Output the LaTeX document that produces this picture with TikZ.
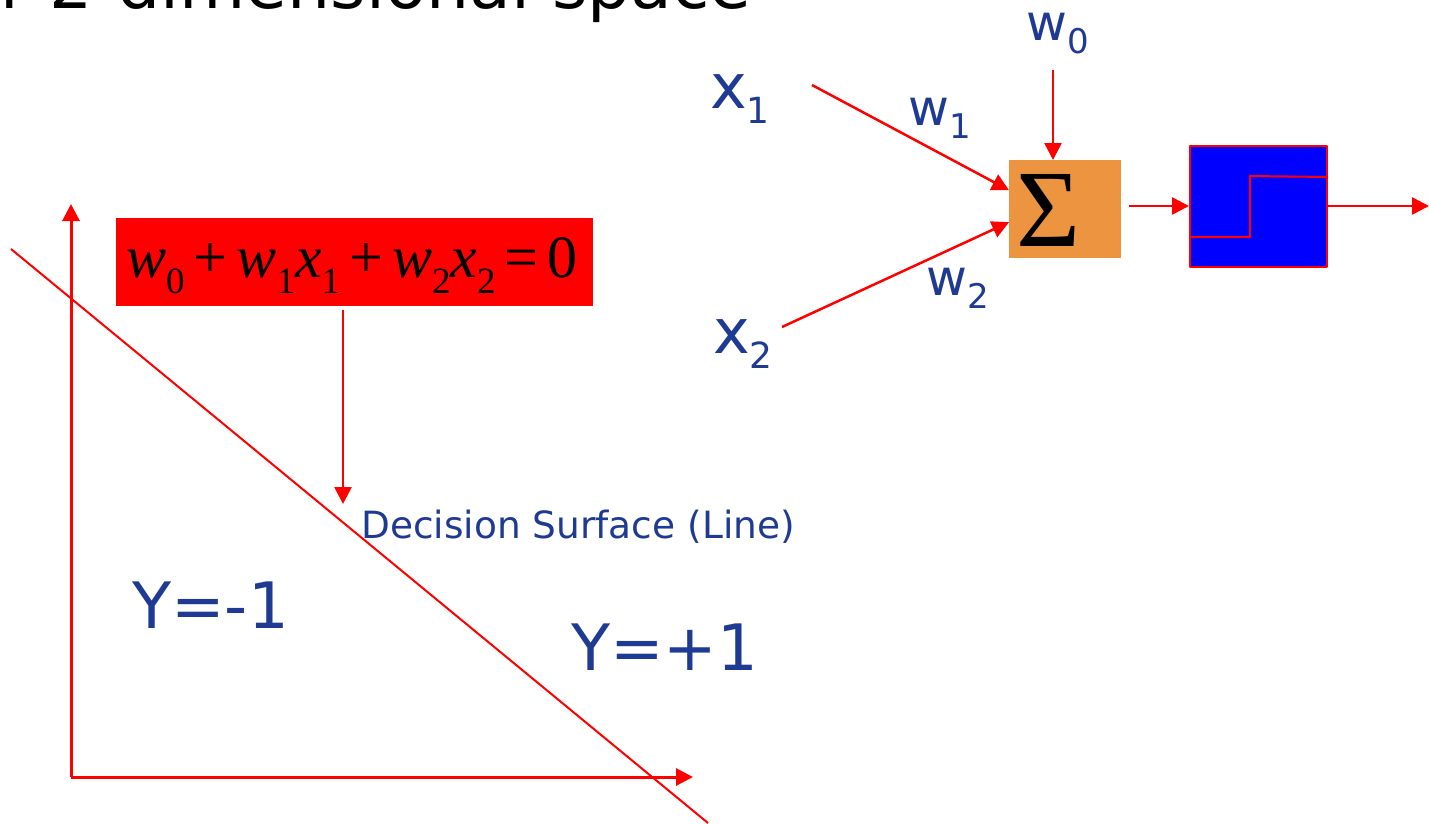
\documentclass[tikz,border=0pt]{standalone}
\usepackage{fontspec}
\setmainfont{DejaVu Sans}
\newfontfamily\eqfont{Liberation Serif}
\usetikzlibrary{arrows.meta}
\definecolor{labelblue}{RGB}{31,58,147}
\definecolor{sumorange}{RGB}{237,148,64}
\newcommand{\xlbl}[1]{{\fontsize{62}{62}\selectfont x}\raisebox{-15pt}{\fontsize{36}{36}\selectfont #1}}
\newcommand{\wlbl}[1]{{\fontsize{50}{50}\selectfont w}\raisebox{-13pt}{\fontsize{34}{34}\selectfont #1}}
\newcommand{\eqsub}[1]{\raisebox{-16pt}{\fontsize{37}{37}\selectfont\upshape #1}}
\newcommand{\eqop}[1]{\hspace{9pt}\upshape#1\hspace{9pt}\itshape}
\begin{document}
\begin{tikzpicture}[x=1pt, y=-1pt, line join=round, >={Triangle[length=17pt,width=17pt]},
	wire/.style={red, line width=2.5pt, ->},
	axis/.style={red, line width=3pt, ->},
	lbl/.style={labelblue, anchor=base west, inner sep=0pt}]
	\useasboundingbox (0,0) rectangle (1429,823);
	% title, cut off by the top edge
	\node[anchor=base west, inner sep=0pt, font=\fontsize{68}{68}\selectfont] (title) at (0,8) {r 2-dimensional space};
	% axes and decision line
	\coordinate (O) at (71,777);
	\coordinate (Ytop) at (71,204);
	\coordinate (Xend) at (693,777);
	\coordinate (L1) at (11,249);
	\coordinate (L2) at (708,823);
	\draw[axis] (O) -- (Ytop);
	\draw[axis] (O) -- (Xend);
	\draw[red, line width=2pt] (L1) -- (L2);
	% equation of the line
	\node[fill=red, minimum width=477pt, minimum height=88pt, inner sep=0pt, anchor=north west] (eq) at (116,218) {};
	\node[anchor=base west, inner sep=0pt] (eqtxt) at (126,277) {\eqfont\fontsize{60}{60}\selectfont\itshape
		w\eqsub{0}\eqop{+}w\eqsub{1}x\eqsub{1}\eqop{+}w\eqsub{2}x\eqsub{2}\eqop{=}\upshape 0};
	\coordinate (eqe) at (343,310);
	\coordinate (dse) at (343,504);
	\draw[wire] (eqe) -- (dse);
	\node[lbl, font=\fontsize{37.5}{37.5}\selectfont] (dlabel) at (361,538) {Decision Surface (Line)};
	\node[lbl, font=\fontsize{64}{64}\selectfont] (yneg) at (132,628) {Y=-1};
	\node[lbl, font=\fontsize{64}{64}\selectfont] (ypos) at (571,670) {Y=+1};
	% perceptron
	\node[fill=sumorange, minimum width=112pt, minimum height=98pt, inner sep=0pt, anchor=north west] (sum) at (1009,160) {};
	\node[anchor=base west, inner sep=0pt] (sig) at (1016,246) {\eqfont\fontsize{110}{110}\selectfont Σ};
	\node[draw=red, line width=2pt, fill=blue, minimum width=137pt, minimum height=121pt, inner sep=0pt, anchor=north west] (act) at (1189,145) {};
	\draw[red, line width=2pt] ([yshift=-30.5pt]act.west) -| (1250,176) -- ([yshift=29.5pt]act.east);
	\foreach \i/\px/\py in {1/710/108, 2/713/353}
		\node[lbl] (x\i) at (\px,\py) {\xlbl{\i}};
	\foreach \i/\px/\py in {0/1026/40, 1/908/125, 2/926/295}
		\node[lbl] (w\i) at (\px,\py) {\wlbl{\i}};
	\coordinate (x1e) at (812,85);
	\coordinate (x2e) at (782,327);
	\coordinate (w0e) at (1053,70);
	\coordinate (sume) at (1129,206);
	\coordinate (oute) at (1429,206);
	\draw[wire] (x1e) -- ([yshift=19pt]sum.west);
	\draw[wire] (x2e) -- ([yshift=-13pt]sum.west);
	\draw[wire] (w0e) -- (w0e |- sum.north);
	\draw[wire] (sume) -- (act.west |- sume);
	\draw[wire] (act.east |- sume) -- (oute);
\end{tikzpicture}
\end{document}
